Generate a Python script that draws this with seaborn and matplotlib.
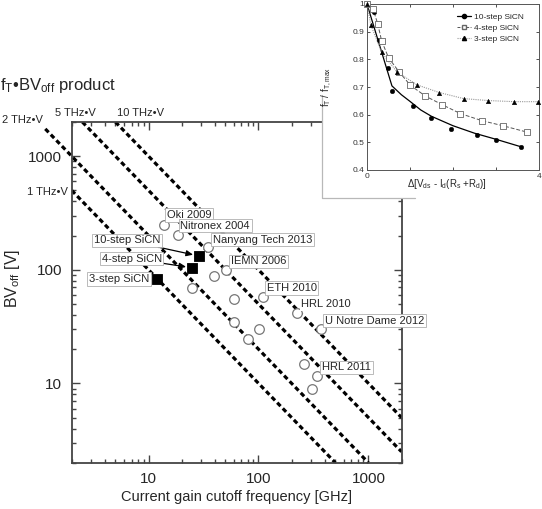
import numpy as np
import pandas as pd
import matplotlib
matplotlib.use("Agg")
import matplotlib.pyplot as plt
import seaborn as sns
from matplotlib.lines import Line2D
from matplotlib.ticker import LogLocator, NullFormatter, FuncFormatter

# ---- data: literature devices (ft in GHz, BVoff in V) ----
lit_ft = [13.9, 18.4, 34.5, 50.6, 39.3, 25.0, 60.1, 109, 222, 369, 60.0, 101.5, 80.6, 260, 342, 310]
lit_bv = [250, 201, 158, 99, 89, 69.5, 55, 57.4, 42, 29.8, 34.5, 29.8, 24.4, 14.8, 11.5, 8.9]
lit_labels = ["Oki 2009", "Nitronex 2004", "Nanyang Tech 2013", "IEMN 2006", "", "", "",
              "ETH 2010", "HRL 2010", "U Notre Dame 2012", "", "", "", "", "HRL 2011", ""]

# this work
sicn_names = ["10-step SiCN", "4-step SiCN", "3-step SiCN"]
sicn_ft = [28.9, 25.0, 12.0]
sicn_bv = [132, 104, 83]

# ft*BV product guide lines (GHz*V)
products = [1000, 2000, 5000, 10000]
product_labels = ["1 THz•V", "2 THz•V", "5 THz•V", "10 THz•V"]

# ---- inset data ----
x10 = [0, 0.155, 0.28, 0.49, 0.58, 1.075, 1.485, 1.95, 2.55, 2.99, 3.58]
y10 = [1.0, 0.972, 0.870, 0.769, 0.687, 0.631, 0.589, 0.548, 0.528, 0.507, 0.484]
fit10_x = [0, 0.58, 0.8, 1.0, 1.25, 1.5, 2.0, 2.5, 3.0, 3.58]
fit10_y = [1.0, 0.704, 0.672, 0.648, 0.617, 0.594, 0.560, 0.533, 0.511, 0.484]
x4 = [0, 0.14, 0.25, 0.34, 0.50, 0.75, 1.01, 1.36, 1.75, 2.17, 2.68, 3.16, 3.72]
y4 = [1.0, 0.982, 0.928, 0.867, 0.806, 0.754, 0.706, 0.667, 0.636, 0.604, 0.578, 0.560, 0.537]
x3 = [0, 0.09, 0.34, 0.70, 1.16, 1.68, 2.25, 2.82, 3.42, 3.98]
y3 = [1.0, 0.924, 0.825, 0.754, 0.708, 0.680, 0.658, 0.651, 0.647, 0.647]
inset_xticklabels = ["0", "", "", "", "4"]

# ---- style ----
sns.set_style("ticks")
plt.rcParams["font.family"] = ["Liberation Sans", "DejaVu Sans"]
plt.rcParams["mathtext.fontset"] = "custom"
plt.rcParams["mathtext.rm"] = "Liberation Sans"
plt.rcParams["mathtext.it"] = "Liberation Sans"
plt.rcParams["mathtext.default"] = "regular"

W, H = 542, 509
fig = plt.figure(figsize=(W / 100, H / 100), dpi=100)
ax = fig.add_axes([71.7 / W, 1 - 462.7 / H, 329.8 / W, 340.7 / H])
ax.set_xscale("log")
ax.set_yscale("log")
ax.set_xlim(2, 2000)
ax.set_ylim(2, 2000)

# guide lines
line_start = {2000: 1.15}
for p in products:
    x0 = line_start.get(p, max(2, p / 2000))
    x1 = min(2000, p / 2)
    seg = pd.DataFrame({"x": [x0, x1], "y": [p / x0, p / x1]})
    sns.lineplot(data=seg, x="x", y="y", ax=ax, color="black", lw=2.3,
                 linestyle=(0, (1.5, 1.0)), clip_on=(p not in line_start), zorder=2)

# literature points
sns.scatterplot(x=lit_ft, y=lit_bv, ax=ax, marker="o", s=48, facecolor="white",
                edgecolor="#777777", linewidth=0.9, zorder=4)
label_offsets = {
    "Oki 2009": (2, 7), "Nitronex 2004": (2, 7), "Nanyang Tech 2013": (3.5, 5.5),
    "IEMN 2006": (3.5, 6.5), "ETH 2010": (3, 6.5), "HRL 2010": (3.5, 6),
    "U Notre Dame 2012": (3, 6.3), "HRL 2011": (3.5, 6.5),
}
for xv, yv, name in zip(lit_ft, lit_bv, lit_labels):
    if not name:
        continue
    edge = "none" if name == "HRL 2010" else "#b0b0b0"
    ax.annotate(name, (xv, yv), xytext=label_offsets[name], textcoords="offset points",
                ha="left", va="center", fontsize=8, zorder=5, annotation_clip=False,
                bbox=dict(boxstyle="square,pad=0.15", fc="white", ec=edge, lw=0.6))

# this-work squares
sns.scatterplot(x=sicn_ft, y=sicn_bv, ax=ax, marker="s", s=58, color="black",
                edgecolor="black", zorder=6)
sicn_offsets = [(-28, 11.3), (-22, 6.7), (-6, 0)]
for xv, yv, name, off in zip(sicn_ft, sicn_bv, sicn_names, sicn_offsets):
    arrow = None
    if name != "3-step SiCN":
        arrow = dict(arrowstyle="-|>,head_length=0.5,head_width=0.22", color="black",
                     lw=0.9, shrinkA=0, shrinkB=4.5)
    ax.annotate(name, (xv, yv), xytext=off, textcoords="offset points",
                ha="right", va="center", fontsize=8, zorder=5, arrowprops=arrow,
                bbox=dict(boxstyle="square,pad=0.15", fc="white", ec="#b0b0b0", lw=0.6))

# axes cosmetics
for sp in ax.spines.values():
    sp.set_color("#444444")
    sp.set_linewidth(1.3)
ax.xaxis.set_major_locator(LogLocator(base=10, numticks=10))
ax.yaxis.set_major_locator(LogLocator(base=10, numticks=10))
ax.xaxis.set_minor_locator(LogLocator(base=10, subs=np.arange(2, 10), numticks=20))
ax.yaxis.set_minor_locator(LogLocator(base=10, subs=np.arange(2, 10), numticks=20))
ax.xaxis.set_minor_formatter(NullFormatter())
ax.yaxis.set_minor_formatter(NullFormatter())
fmt = FuncFormatter(lambda v, _: f"{v:g}")
ax.xaxis.set_major_formatter(fmt)
ax.yaxis.set_major_formatter(fmt)
ax.tick_params(which="both", direction="in", top=True, right=True, color="#444444",
               labelsize=11, width=1.0)
ax.tick_params(which="major", length=6, pad=7)
ax.tick_params(which="minor", length=3)
ax.set_xlabel("")
ax.set_ylabel("")
fig.text(236.6 / W, 1 - 497 / H, "Current gain cutoff frequency [GHz]", ha="center",
         va="center", fontsize=10.5)
fig.text(12 / W, 1 - 278 / H, "BV$_{off}$ [V]", ha="center", va="center",
         rotation=90, fontsize=11.5)

# product labels
fig.text(0.5 / W, 1 - 86 / H, "f$_T$•BV$_{off}$ product", ha="left", va="center", fontsize=12)
fig.text(2 / W, 1 - 120 / H, product_labels[1], ha="left", va="center", fontsize=8)
fig.text(55 / W, 1 - 113 / H, product_labels[2], ha="left", va="center", fontsize=8)
fig.text(117 / W, 1 - 113 / H, product_labels[3], ha="left", va="center", fontsize=8)
fig.text(68 / W, 1 - 192 / H, product_labels[0], ha="right", va="center", fontsize=8)

# ---- inset panel (white box covering the corner) ----
panel = fig.add_axes([322 / W, 1 - 198 / H, 221 / W, 199 / H])
panel.set_facecolor("white")
panel.set_xticks([])
panel.set_yticks([])
for sp in panel.spines.values():
    sp.set_visible(False)
panel.plot([0, 0, 0.42], [0.52, 0, 0], color="#b8b8b8", lw=0.9,
           transform=panel.transAxes, clip_on=False)

ins = fig.add_axes([367 / W, 1 - 170 / H, 172 / W, 166 / H])
sns.lineplot(x=fit10_x, y=fit10_y, ax=ins, color="black", lw=0.9, sort=False)
sns.scatterplot(x=x10, y=y10, ax=ins, marker="o", s=11, color="black", edgecolor="black",
                zorder=4, clip_on=False)
sns.lineplot(x=x4, y=y4, ax=ins, color="#555555", lw=0.7, linestyle=(0, (4, 2)))
sns.scatterplot(x=x4, y=y4, ax=ins, marker="s", s=14, facecolor="white",
                edgecolor="#666666", linewidth=0.6, zorder=4, clip_on=False)
sns.lineplot(x=x3, y=y3, ax=ins, color="#999999", lw=0.8, linestyle=(0, (1, 1)))
sns.scatterplot(x=x3, y=y3, ax=ins, marker="^", s=11, color="black", edgecolor="black",
                zorder=4, clip_on=False)
ins.set_xlim(0, 4)
ins.set_ylim(0.4, 1.0)
ins.set_xticks([0, 1, 2, 3, 4])
ins.set_xticklabels(inset_xticklabels)
ins.set_yticks([0.4, 0.5, 0.6, 0.7, 0.8, 0.9, 1.0])
ins.yaxis.set_major_formatter(fmt)
ins.tick_params(direction="in", labelsize=6, length=2, width=0.6, pad=2,
                colors="#333333", top=True, right=True)
for sp in ins.spines.values():
    sp.set_color("#555555")
    sp.set_linewidth(0.7)
ins.set_xlabel("")
ins.set_ylabel("")
ins.text(0.465, -0.085, "Δ[V$_{ds}$ - I$_d$(R$_s$ +R$_d$)]", transform=ins.transAxes,
         ha="center", va="center", fontsize=7)
ins.text(-0.235, 0.5, "f$_T$ / f$_{T,max}$", transform=ins.transAxes, ha="center",
         va="center", rotation=90, fontsize=7)

handles = [
    Line2D([], [], color="black", lw=0.9, marker="o", ms=3, label="10-step SiCN"),
    Line2D([], [], color="#555555", lw=0.7, linestyle=(0, (3, 1.5)), marker="s", ms=3,
           mfc="white", mec="#666666", label="4-step SiCN"),
    Line2D([], [], color="#999999", lw=0.8, linestyle=(0, (1, 1)), marker="^", ms=3,
           mfc="black", mec="black", label="3-step SiCN"),
]
ins.legend(handles=handles, loc="upper right", bbox_to_anchor=(0.93, 0.965), frameon=False,
           fontsize=6, handlelength=1.7, handletextpad=0.3, labelspacing=0.4,
           borderaxespad=0)

fig.savefig("out.png", dpi=100)
